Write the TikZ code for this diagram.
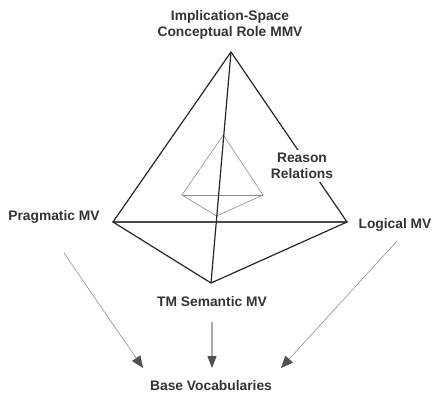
\documentclass[tikz,border=0pt]{standalone}
\usepackage{fontspec}
\setmainfont{Liberation Sans}
\usetikzlibrary{arrows.meta}
\definecolor{txt}{HTML}{333333}
\definecolor{edge}{HTML}{262626}
\definecolor{midedge}{HTML}{4a4a4a}
\definecolor{inner}{HTML}{8c8c8c}
\definecolor{arr}{HTML}{8a8a8a}
\definecolor{arrlight}{HTML}{a8a8a8}
\definecolor{head}{HTML}{505050}
\tikzset{
  lbl/.style={font=\fontsize{13.8}{16}\selectfont\bfseries, text=txt, align=center, inner sep=0pt},
  outeredge/.style={draw=edge, line width=1.2pt, line join=round, line cap=round},
  baseedge/.style={draw=midedge, line width=1.5pt, line cap=round},
  inneredge/.style={draw=inner, line width=0.6pt, line join=round},
  flow/.style={draw=arr, line width=0.55pt, -{Triangle[length=12pt,width=10pt,fill=head,color=head]}},
  flowmid/.style={draw=arrlight, line width=1.1pt, -{Triangle[length=12pt,width=9pt,fill=head,color=head]}},
}
\begin{document}
\begin{tikzpicture}[x=1pt,y=-1pt]
\useasboundingbox (0,0) rectangle (443,409);
% outer vertices
\coordinate (A) at (231,52);
\coordinate (L) at (113,222);
\coordinate (R) at (347,222);
\coordinate (B) at (211,283);
% inner vertices
\coordinate (iA) at (223.3,135);
\coordinate (iL) at (182,195);
\coordinate (iR) at (263,195);
\coordinate (iB) at (216.5,216);
% inner tetrahedron
\draw[inneredge] (iA) -- (iL) -- (iB) -- (iR) -- cycle;
\draw[inneredge] (iL) -- (iR);
% outer tetrahedron
\draw[baseedge] (L) -- (R);
\draw[outeredge] (L) -- (A) -- (R);
\draw[outeredge] (L) -- (B) -- (R);
\draw[outeredge] (A) -- (B);
% labels
\node[lbl] (top) at (230,25) {Implication-Space\\Conceptual Role MMV};
\node[lbl, fill=white, inner sep=3pt] (reason) at (302,166) {Reason\\Relations};
\node[lbl] (prag) at (54,217) {Pragmatic MV};
\node[lbl] (logic) at (395,225) {Logical MV};
\node[lbl] (sem) at (212,302) {TM Semantic MV};
\node[lbl] (base) at (211,386) {Base Vocabularies};
% arrows
\coordinate (p1) at (64,253);
\coordinate (p2) at (143,368);
\coordinate (m1) at (212,322);
\coordinate (m2) at (212,368);
\coordinate (r1) at (397,241);
\coordinate (r2) at (281,368);
\draw[flow] (p1) -- (p2);
\draw[flowmid] (m1) -- (m2);
\draw[flow] (r1) -- (r2);
\end{tikzpicture}
\end{document}
